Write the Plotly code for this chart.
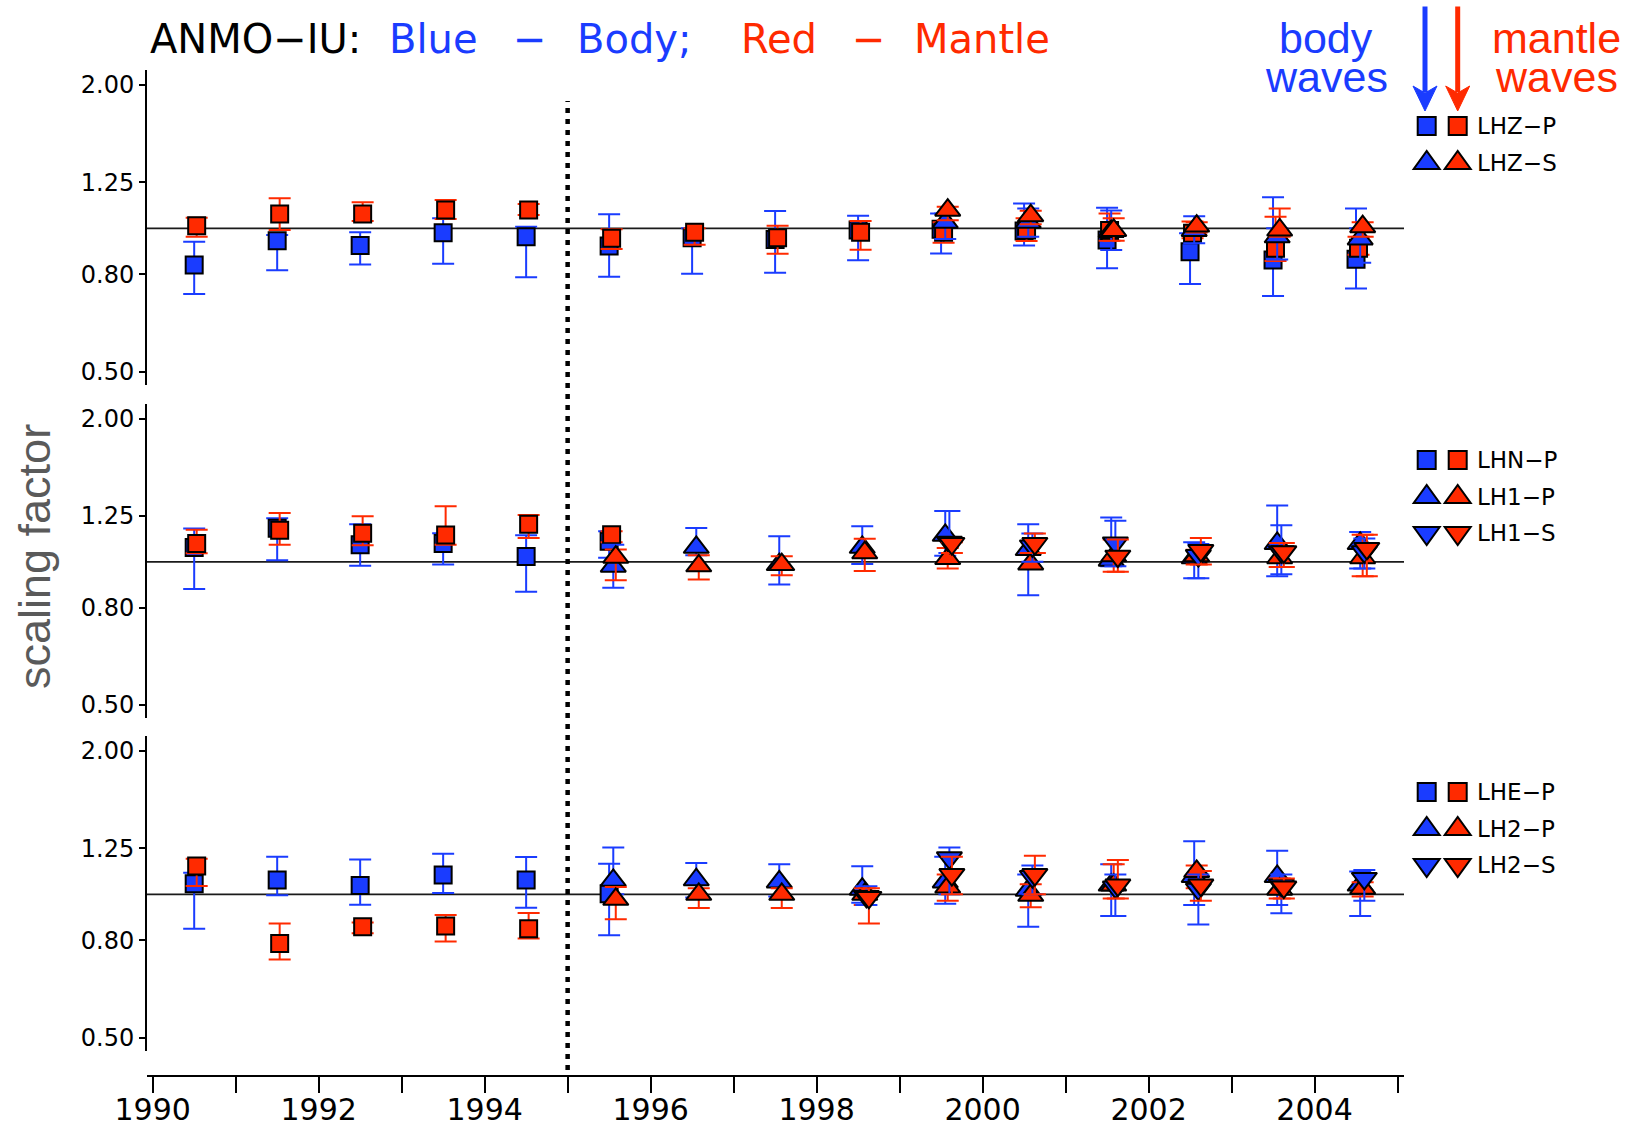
import plotly.graph_objects as go

W, H = 1633, 1128
BLUE = "#1a3cff"
RED = "#ff2a00"

# ---------------- data: panel 1 (vertical) ----------------
lhz_p_years = [1990, 1991, 1992, 1993, 1994, 1995, 1996, 1997, 1998, 1999, 2000, 2001, 2002, 2003, 2004]
lhz_p_body = [0.838, 0.942, 0.920, 0.979, 0.960, 0.918, 0.955, 0.948, 0.992, 0.995, 0.987, 0.945, 0.893, 0.858, 0.861]
lhz_p_body_lo = [0.728, 0.817, 0.840, 0.843, 0.789, 0.791, 0.803, 0.807, 0.857, 0.885, 0.920, 0.824, 0.764, 0.721, 0.748]
lhz_p_body_hi = [0.937, 0.968, 0.981, 1.050, 1.008, 1.070, 1.000, 1.087, 1.063, 1.075, 1.128, 1.105, 0.976, 1.162, 1.101]
lhz_p_mant = [1.013, 1.072, 1.072, 1.093, 1.093, 0.953, 0.981, 0.956, 0.981, 0.981, 0.992, 0.990, 0.976, 0.908, 0.908]
lhz_p_mant_lo = [0.960, 0.992, 1.036, 1.046, 1.067, 0.905, 0.924, 0.884, 0.902, 0.933, 0.941, 0.942, 0.953, 0.854, 0.880]
lhz_p_mant_hi = [1.053, 1.156, 1.134, 1.147, 1.125, 0.995, 1.000, 1.013, 1.036, 1.030, 1.050, 1.075, 1.033, 1.058, 0.960]

lhz_s_years = [1999, 2000, 2001, 2002, 2003, 2004]
lhz_s_body = [1.030, 1.030, 0.985, 0.990, 0.960, 0.950]
lhz_s_body_lo = [0.950, 0.960, 0.900, 0.930, 0.860, 0.847]
lhz_s_body_hi = [1.075, 1.100, 1.090, 1.060, 1.000, 1.000]
lhz_s_mant = [1.092, 1.063, 0.990, 1.011, 0.992, 1.008]
lhz_s_mant_lo = [1.040, 1.020, 0.942, 0.980, 0.960, 0.960]
lhz_s_mant_hi = [1.110, 1.089, 1.050, 1.030, 1.100, 1.030]

# ---------------- data: panel 2 (north / 1) ----------------
lhn_p_years = [1990, 1991, 1992, 1993, 1994, 1995]
lhn_p_body = [1.072, 1.177, 1.086, 1.093, 1.026, 1.105]
lhn_p_body_lo = [0.876, 1.008, 0.981, 0.987, 0.865, 1.020]
lhn_p_body_hi = [1.175, 1.235, 1.200, 1.149, 1.137, 1.160]
lhn_p_mant = [1.093, 1.166, 1.149, 1.139, 1.200, 1.141]
lhn_p_mant_lo = [1.043, 1.086, 1.084, 1.087, 1.123, 1.100]
lhn_p_mant_hi = [1.169, 1.268, 1.247, 1.309, 1.255, 1.160]

lh1_p_years = [1995, 1996, 1997, 1998, 1999, 2000, 2001, 2002, 2003, 2004]
lh1_p_body = [0.979, 1.073, 0.987, 1.073, 1.137, 1.061, 1.008, 1.020, 1.093, 1.093]
lh1_p_body_lo = [0.882, 1.033, 0.896, 0.990, 1.030, 0.850, 0.979, 0.923, 0.933, 0.968]
lh1_p_body_hi = [1.087, 1.178, 1.132, 1.188, 1.280, 1.200, 1.240, 1.100, 1.315, 1.156]
lh1_p_mant = [1.023, 0.981, 0.987, 1.045, 1.016, 0.990, 1.030, 1.030, 1.020, 1.020]
lh1_p_mant_lo = [0.914, 0.918, 0.937, 0.956, 0.968, 0.968, 0.953, 0.987, 0.975, 0.933]
lh1_p_mant_hi = [1.061, 1.033, 1.028, 1.119, 1.070, 1.044, 1.114, 1.060, 1.096, 1.140]

lh1_s_years = [1999, 2000, 2001, 2002, 2003, 2004]
lh1_s_body = [1.100, 1.080, 1.096, 1.031, 1.050, 1.050]
lh1_s_body_lo = [1.044, 1.000, 0.979, 0.923, 0.941, 0.968]
lh1_s_body_hi = [1.280, 1.147, 1.220, 1.090, 1.194, 1.120]
lh1_s_mant = [1.093, 1.093, 1.028, 1.056, 1.050, 1.067]
lh1_s_mant_lo = [1.044, 1.044, 0.953, 0.987, 0.975, 0.933]
lh1_s_mant_hi = [1.100, 1.147, 1.114, 1.123, 1.096, 1.140]

# ---------------- data: panel 3 (east / 2) ----------------
lhe_p_body_years = [1990, 1991, 1992, 1993, 1994, 1995]
lhe_p_body = [1.053, 1.072, 1.044, 1.098, 1.072, 1.003]
lhe_p_body_lo = [0.847, 0.995, 0.951, 1.006, 0.937, 0.820]
lhe_p_body_hi = [1.110, 1.200, 1.184, 1.217, 1.198, 1.160]
lhe_p_mant_years = [1990, 1991, 1992, 1993, 1994]
lhe_p_mant = [1.147, 0.788, 0.855, 0.858, 0.847]
lhe_p_mant_lo = [1.041, 0.730, 0.828, 0.796, 0.808]
lhe_p_mant_hi = [1.188, 0.868, 0.873, 0.905, 0.914]

lh2_p_years = [1995, 1996, 1997, 1998, 1999, 2000, 2001, 2002, 2003, 2004]
lh2_p_body = [1.070, 1.073, 1.062, 1.025, 1.062, 1.020, 1.046, 1.090, 1.090, 1.046]
lh2_p_body_lo = [1.000, 0.985, 0.990, 0.960, 0.956, 0.855, 0.900, 0.950, 0.950, 0.900]
lh2_p_body_hi = [1.254, 1.163, 1.157, 1.146, 1.200, 1.100, 1.157, 1.293, 1.235, 1.117]
lh2_p_mant = [0.976, 1.000, 1.000, 1.000, 1.036, 0.995, 1.046, 1.117, 1.025, 1.030]
lh2_p_mant_lo = [0.886, 0.936, 0.936, 0.950, 0.970, 0.940, 0.980, 1.030, 0.980, 0.990]
lh2_p_mant_hi = [1.036, 1.030, 1.030, 1.030, 1.100, 1.050, 1.157, 1.150, 1.080, 1.060]

lh2_s_body_years = [1998, 1999, 2000, 2001, 2002, 2003, 2004]
lh2_s_body = [0.990, 1.193, 1.090, 1.036, 1.025, 1.046, 1.080]
lh2_s_body_lo = [0.950, 1.000, 1.000, 0.900, 0.864, 0.913, 0.970]
lh2_s_body_hi = [1.040, 1.254, 1.150, 1.100, 1.100, 1.100, 1.125]
lh2_s_mant_years = [1998, 1999, 2000, 2001, 2002, 2003]
lh2_s_mant = [0.985, 1.100, 1.100, 1.046, 1.046, 1.036]
lh2_s_mant_lo = [0.868, 1.000, 1.000, 0.980, 0.970, 0.980]
lh2_s_mant_hi = [1.030, 1.200, 1.205, 1.180, 1.120, 1.080]

# tick labels
x_tick_years = [1990, 1991, 1992, 1993, 1994, 1995, 1996, 1997, 1998, 1999, 2000, 2001, 2002, 2003, 2004, 2005]
x_tick_text = ["1990", "", "1992", "", "1994", "", "1996", "", "1998", "", "2000", "", "2002", "", "2004", ""]
y_tick_vals = [0.50, 0.80, 1.25, 2.00]
y_tick_text = ["0.50", "0.80", "1.25", "2.00"]
split_year = 1995

panel_labels = [["LHZ\u2212P", "LHZ\u2212S"],
                ["LHN\u2212P", "LH1\u2212P", "LH1\u2212S"],
                ["LHE\u2212P", "LH2\u2212P", "LH2\u2212S"]]

# ---------------- figure ----------------
fig = go.Figure()

SYMS = ["square", "triangle-up", "triangle-down"]
SIZES = {"square": 17, "triangle-up": 22, "triangle-down": 22}


def add_series(years, vals, lo, hi, color, symbol, dodge, yref):
    xs = [y + dodge for y in years]
    plus = [max(0.0, h - v) for v, h in zip(vals, hi)]
    minus = [max(0.0, v - l) for v, l in zip(vals, lo)]
    fig.add_trace(go.Scatter(
        x=xs, y=vals, mode="markers", xaxis="x", yaxis=yref,
        marker=dict(symbol=symbol, size=SIZES[symbol], color=color,
                    line=dict(color="black", width=2)),
        error_y=dict(type="data", symmetric=False, array=plus, arrayminus=minus,
                     color=color, thickness=2, width=11),
        showlegend=False, hoverinfo="x+y"))


panels = [
    ("y", [
        (lhz_p_years, lhz_p_body, lhz_p_body_lo, lhz_p_body_hi,
         lhz_p_years, lhz_p_mant, lhz_p_mant_lo, lhz_p_mant_hi),
        (lhz_s_years, lhz_s_body, lhz_s_body_lo, lhz_s_body_hi,
         lhz_s_years, lhz_s_mant, lhz_s_mant_lo, lhz_s_mant_hi),
    ]),
    ("y2", [
        (lhn_p_years, lhn_p_body, lhn_p_body_lo, lhn_p_body_hi,
         lhn_p_years, lhn_p_mant, lhn_p_mant_lo, lhn_p_mant_hi),
        (lh1_p_years, lh1_p_body, lh1_p_body_lo, lh1_p_body_hi,
         lh1_p_years, lh1_p_mant, lh1_p_mant_lo, lh1_p_mant_hi),
        (lh1_s_years, lh1_s_body, lh1_s_body_lo, lh1_s_body_hi,
         lh1_s_years, lh1_s_mant, lh1_s_mant_lo, lh1_s_mant_hi),
    ]),
    ("y3", [
        (lhe_p_body_years, lhe_p_body, lhe_p_body_lo, lhe_p_body_hi,
         lhe_p_mant_years, lhe_p_mant, lhe_p_mant_lo, lhe_p_mant_hi),
        (lh2_p_years, lh2_p_body, lh2_p_body_lo, lh2_p_body_hi,
         lh2_p_years, lh2_p_mant, lh2_p_mant_lo, lh2_p_mant_hi),
        (lh2_s_body_years, lh2_s_body, lh2_s_body_lo, lh2_s_body_hi,
         lh2_s_mant_years, lh2_s_mant, lh2_s_mant_lo, lh2_s_mant_hi),
    ]),
]

for yref, series in panels:
    for i, s in enumerate(series):
        by, bv, bl, bh, my, mv, ml, mh = s
        add_series(by, bv, bl, bh, BLUE, SYMS[i], 0.50 + 0.05 * i, yref)
        add_series(my, mv, ml, mh, RED, SYMS[i], 0.53 + 0.05 * i, yref)


def px(x):
    return x / W


def py(y):
    return 1 - y / H


# panel geometry (pixels)
panel_tops = [70, 404, 736]
panel_bots = [385, 718, 1051]
x_left, x_right = 146.8, 1404.0

yaxis_common = dict(
    type="log", range=[-0.329, 0.3325], anchor="x", automargin=False,
    showline=True, linecolor="black", linewidth=1.6,
    ticks="outside", ticklen=6, tickwidth=1.5, tickcolor="black",
    tickvals=y_tick_vals, ticktext=y_tick_text,
    tickfont=dict(family="DejaVu Sans", size=24, color="black"),
    showgrid=False, zeroline=False,
)

layout_axes = {}
for k, (t, b) in enumerate(zip(panel_tops, panel_bots)):
    name = "yaxis" if k == 0 else f"yaxis{k + 1}"
    layout_axes[name] = dict(yaxis_common, domain=[py(b), py(t)])

fig.update_layout(
    width=W, height=H,
    margin=dict(l=0, r=0, t=0, b=0, autoexpand=False),
    paper_bgcolor="white", plot_bgcolor="white",
    showlegend=False,
    xaxis=dict(
        domain=[px(x_left), px(x_right)], range=[1989.929, 2005.078],
        anchor="free", position=py(1076), automargin=False,
        showline=True, linecolor="black", linewidth=2.2,
        ticks="outside", ticklen=16, tickwidth=1.5, tickcolor="black",
        tickvals=x_tick_years, ticktext=x_tick_text, ticklabelstandoff=-9,
        tickfont=dict(family="DejaVu Sans", size=30, color="black"),
        showgrid=False, zeroline=False,
    ),
    **layout_axes,
)

shapes = []
# reference lines at 1.0
for yref in ["y", "y2", "y3"]:
    shapes.append(dict(type="line", xref="x domain", x0=0, x1=1, yref=yref, y0=1, y1=1,
                       line=dict(color="#1a1a1a", width=1.6), layer="below"))
# dotted divider
shapes.append(dict(type="line", xref="x", x0=split_year, x1=split_year,
                   yref="paper", y0=py(1070), y1=py(101),
                   line=dict(color="black", width=4.5, dash="5px,6px")))

# arrows
for ax_, col in [(1425.0, BLUE), (1457.7, RED)]:
    shapes.append(dict(type="line", xref="paper", yref="paper",
                       x0=px(ax_), x1=px(ax_), y0=py(6.5), y1=py(92),
                       line=dict(color=col, width=5)))
    path = (f"M {px(ax_ - 12)},{py(86)} L {px(ax_)},{py(111)} "
            f"L {px(ax_ + 12)},{py(86)} L {px(ax_)},{py(93)} Z")
    shapes.append(dict(type="path", xref="paper", yref="paper", path=path,
                       fillcolor=col, line=dict(color=col, width=1)))

# legend keys
key_dx = [1426.7, 1457.7]
row_offsets = [56, 93, 129]
annotations = []
for k, labels in enumerate(panel_labels):
    for r, lab in enumerate(labels):
        cy = panel_tops[k] + row_offsets[r]
        for cx, col in zip(key_dx, [BLUE, RED]):
            if r == 0:
                shapes.append(dict(type="rect", xref="paper", yref="paper",
                                   x0=px(cx - 9), x1=px(cx + 9), y0=py(cy + 9), y1=py(cy - 9),
                                   fillcolor=col, line=dict(color="black", width=2)))
            elif r == 1:
                p = (f"M {px(cx - 13)},{py(cy + 6)} L {px(cx + 13)},{py(cy + 6)} "
                     f"L {px(cx)},{py(cy - 12)} Z")
                shapes.append(dict(type="path", xref="paper", yref="paper", path=p,
                                   fillcolor=col, line=dict(color="black", width=2)))
            else:
                p = (f"M {px(cx - 13)},{py(cy - 6)} L {px(cx + 13)},{py(cy - 6)} "
                     f"L {px(cx)},{py(cy + 12)} Z")
                shapes.append(dict(type="path", xref="paper", yref="paper", path=p,
                                   fillcolor=col, line=dict(color="black", width=2)))
        annotations.append(dict(text=lab, xref="paper", yref="paper",
                                x=px(1475), y=py(cy), xanchor="left", yanchor="middle",
                                showarrow=False,
                                font=dict(family="DejaVu Sans", size=23, color="black")))

# title pieces
title_parts = [("ANMO\u2212IU:", "black", 148), ("Blue", BLUE, 387), ("\u2212", BLUE, 511),
               ("Body;", BLUE, 575), ("Red", RED, 739), ("\u2212", RED, 850),
               ("Mantle", RED, 912)]
for txt, col, x0 in title_parts:
    annotations.append(dict(text=txt, xref="paper", yref="paper", x=px(x0), y=py(39),
                            xanchor="left", yanchor="middle", showarrow=False,
                            font=dict(family="DejaVu Sans", size=40, color=col)))

# body / mantle waves labels
for txt, col, cx, cy in [("body", BLUE, 1326, 38), ("waves", BLUE, 1326, 76.5),
                         ("mantle", RED, 1556, 38), ("waves", RED, 1556, 76.5)]:
    annotations.append(dict(text=txt, xref="paper", yref="paper", x=px(cx), y=py(cy),
                            xanchor="center", yanchor="middle", showarrow=False,
                            font=dict(family="Liberation Sans", size=43, color=col)))

# y-axis title
annotations.append(dict(text="scaling factor", xref="paper", yref="paper",
                        x=px(34), y=py(557), xanchor="center", yanchor="middle",
                        textangle=-90, showarrow=False,
                        font=dict(family="Liberation Sans", size=45, color="#5a5a5a")))

fig.update_layout(shapes=shapes, annotations=annotations)
fig.write_html("out.html", config={"displayModeBar": False},
               post_script="document.body.style.margin='0';document.body.style.overflow='hidden';")
